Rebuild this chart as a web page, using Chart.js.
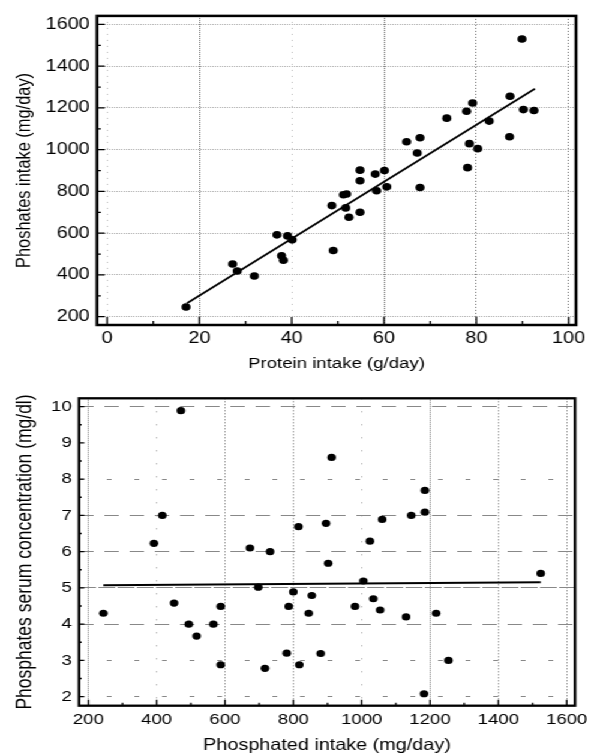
<!DOCTYPE html>
<html>
<head>
<meta charset="utf-8">
<script src="https://cdn.jsdelivr.net/npm/chart.js@4.4.1/dist/chart.umd.min.js"></script>
<style>
  html, body { margin: 0; padding: 0; background: #fff; overflow: hidden; }
  /* the original figure is stretched sideways, so the charts are too */
  #wrap { width: 495px; transform: scaleX(1.2); transform-origin: 0 0; }
  canvas { display: block; }
</style>
</head>
<body>
<div id="wrap">
  <canvas id="chartTop" width="495" height="375"></canvas>
  <canvas id="chartBottom" width="495" height="380"></canvas>
</div>
<script>
// top panel: protein vs phosphate intake
const proteinIntake = [17.1, 27.2, 28.2, 31.9, 36.8, 37.8, 38.2, 39.1, 40.1, 49.0, 48.7, 51.2, 51.9,
  51.7, 52.4, 54.8, 54.8, 54.8, 58.1, 60.1, 58.4, 60.6, 67.8, 64.9, 67.8, 67.2, 73.6, 77.9, 79.2,
  78.5, 80.3, 78.1, 82.8, 87.3, 87.2, 89.9, 90.2, 92.5];
const phosphateIntakeTop = [246, 452, 419, 395, 592, 492, 470, 587, 568, 517, 732, 784, 788,
  721, 676, 700, 851, 902, 883, 900, 803, 822, 819, 1038, 1057, 984, 1151, 1184, 1224,
  1029, 1005, 914, 1137, 1256, 1062, 1530, 1192, 1188];
const fitTopX = [17.3, 92.7];
const fitTopY = [264, 1292];
const topXTicks = [0, 20, 40, 60, 80, 100];
const topXMinor = [10, 30, 50, 70, 90];
const topYTicks = [200, 400, 600, 800, 1000, 1200, 1400, 1600];
const topYMinor = [300, 500, 700, 900, 1100, 1300, 1500];

// bottom panel: phosphate intake vs serum concentration
const phosphateIntakeBottom = [244, 392, 416.6, 451, 471, 494, 517, 566, 587.5, 587.5, 673, 697.5,
  717, 732, 780.6, 786.5, 800, 815, 817.5, 845, 854, 880, 895.6, 902, 912, 980.5, 1005, 1024,
  1034, 1054, 1060, 1130, 1145, 1182.5, 1185, 1185, 1218, 1254, 1524];
const serumPhosphate = [4.30, 6.23, 7.0, 4.58, 9.89, 4.0, 3.67, 4.0, 4.49, 2.88, 6.10, 5.02,
  2.78, 6.0, 3.20, 4.49, 4.89, 6.69, 2.88, 4.30, 4.79, 3.19, 6.78, 5.68, 8.60, 4.49, 5.19, 6.29,
  4.70, 4.39, 6.89, 4.20, 7.0, 2.08, 7.09, 7.69, 4.30, 3.0, 5.40];
const fitBottomX = [244, 1524];
const fitBottomY = [5.07, 5.155];
const bottomXTicks = [200, 400, 600, 800, 1000, 1200, 1400, 1600];
const bottomXMinor = [300, 500, 700, 900, 1100, 1300, 1500];
const bottomYTicks = [2, 3, 4, 5, 6, 7, 8, 9, 10];
const bottomYMinor = [2.5, 3.5, 4.5, 5.5, 6.5, 7.5, 8.5, 9.5];

Chart.defaults.font.family = "'Liberation Sans', Arial, sans-serif";
Chart.defaults.color = '#000';

// frame + inward ticks, placed through the scales
const framePlugin = {
  id: 'frame',
  afterDraw(chart, args, o) {
    const { ctx, chartArea: a, scales: { x, y } } = chart;
    ctx.save();
    ctx.strokeStyle = '#000';
    ctx.lineWidth = 1.3;
    ctx.beginPath();
    o.xMajor.forEach(v => { const p = x.getPixelForValue(v); ctx.moveTo(p, a.bottom); ctx.lineTo(p, a.bottom - o.xLen); });
    o.xMinor.forEach(v => { const p = x.getPixelForValue(v); ctx.moveTo(p, a.bottom); ctx.lineTo(p, a.bottom - o.xLen / 2); });
    o.yMajor.forEach(v => { const p = y.getPixelForValue(v); ctx.moveTo(a.left, p); ctx.lineTo(a.left + o.yLen, p); });
    o.yMinor.forEach(v => { const p = y.getPixelForValue(v); ctx.moveTo(a.left, p); ctx.lineTo(a.left + o.yLen / 2, p); });
    ctx.stroke();
    ctx.lineWidth = o.frameWidth;
    ctx.strokeRect(a.left, a.top, a.right - a.left, a.bottom - a.top);
    ctx.restore();
  }
};

function pts(xs, ys) {
  return xs.map((v, i) => ({ x: v, y: ys[i] }));
}

function fixTicks(values) {
  return s => { s.ticks = values.map(v => ({ value: v })); };
}

// top chart
new Chart(document.getElementById('chartTop'), {
  type: 'scatter',
  data: {
    datasets: [{
      type: 'line',
      data: pts(fitTopX, fitTopY),
      borderColor: '#000',
      borderWidth: 1.7,
      pointRadius: 0,
      fill: false
    }, {
      data: pts(proteinIntake, phosphateIntakeTop),
      backgroundColor: '#000',
      borderWidth: 0,
      pointRadius: 3.8
    }]
  },
  options: {
    responsive: false,
    animation: false,
    layout: { padding: { left: 0, top: 14, right: 15, bottom: 0 } },
    plugins: {
      legend: { display: false },
      tooltip: { enabled: false },
      frame: { xMajor: topXTicks, xMinor: topXMinor, yMajor: topYTicks, yMinor: topYMinor, xLen: 8, yLen: 6.5, frameWidth: 2.5 }
    },
    scales: {
      x: {
        min: -2.2, max: 101.6,
        afterBuildTicks: fixTicks(topXTicks),
        afterFit: s => { s.height = 50; },
        ticks: { padding: 4, font: { size: 16.5 }, callback: v => String(v) },
        grid: {
          drawTicks: false,
          color: c => {
            const v = c.tick ? c.tick.value : 0;
            return (v === 0 || v === 40) ? '#bbb' : '#666';
          }
        },
        border: {
          display: false,
          dash: c => {
            const v = c.tick ? c.tick.value : 0;
            if (v === 0 || v === 40) return [1, 5];
            if (v === 20 || v === 60) return [1, 1];
            return [1, 2];
          }
        },
        title: { display: true, text: 'Protein intake (g/day)', font: { size: 15.5 }, padding: { top: 0, bottom: 2 } }
      },
      y: {
        min: 160, max: 1641,
        afterBuildTicks: fixTicks(topYTicks),
        afterFit: s => { s.width = 80.8; },
        ticks: { padding: 6, font: { size: 16.5 }, callback: v => String(v) },
        grid: { drawTicks: false, color: '#aaa' },
        border: { display: false, dash: [1, 1] },
        title: { display: true, text: 'Phoshates intake (mg/day)', font: { size: 16.4 }, padding: { top: 10.5, bottom: 0 } }
      }
    }
  },
  plugins: [framePlugin]
});

// bottom chart
new Chart(document.getElementById('chartBottom'), {
  type: 'scatter',
  data: {
    datasets: [{
      type: 'line',
      data: pts(fitBottomX, fitBottomY),
      borderColor: '#000',
      borderWidth: 2,
      pointRadius: 0,
      fill: false
    }, {
      data: pts(phosphateIntakeBottom, serumPhosphate),
      backgroundColor: '#000',
      borderWidth: 0,
      pointRadius: 3.6
    }]
  },
  options: {
    responsive: false,
    animation: false,
    layout: { padding: { left: 0, top: 23.3, right: 15.8, bottom: 0 } },
    plugins: {
      legend: { display: false },
      tooltip: { enabled: false },
      frame: { xMajor: bottomXTicks, xMinor: bottomXMinor, yMajor: bottomYTicks, yMinor: bottomYMinor, xLen: 6, yLen: 4.5, frameWidth: 2.3 }
    },
    scales: {
      x: {
        min: 172.6, max: 1624.4,
        afterBuildTicks: fixTicks(bottomXTicks),
        afterFit: s => { s.height = 49.3; },
        ticks: { padding: 5, font: { size: 15.5 }, callback: v => String(v) },
        grid: {
          drawTicks: false,
          color: c => {
            const v = c.tick ? c.tick.value : 0;
            return (v === 400 || v === 1000) ? '#999' : '#777';
          }
        },
        border: {
          display: false,
          dash: c => {
            const v = c.tick ? c.tick.value : 0;
            if (v === 400 || v === 1000) return [1, 12];
            if (v === 200 || v === 1200) return [1, 1];
            return [1, 2];
          }
        },
        title: { display: true, text: 'Phosphated intake (mg/day)', font: { size: 16.5 }, padding: { top: 0, bottom: 0 } }
      },
      y: {
        min: 1.75, max: 10.23,
        afterBuildTicks: fixTicks(bottomYTicks),
        afterFit: s => { s.width = 65.8; },
        ticks: { padding: 6, font: { size: 15.5 }, callback: v => String(v) },
        grid: {
          drawTicks: false,
          color: c => {
            const v = c.tick ? c.tick.value : 0;
            return v === 9 ? 'rgba(0,0,0,0)' : '#888';
          }
        },
        border: {
          display: false,
          dash: c => {
            const v = c.tick ? c.tick.value : 0;
            if (v === 5) return [14, 2];
            if (v === 8 || v === 3 || v === 2) return [4, 19];
            return [12, 9];
          }
        },
        title: { display: true, text: 'Phosphates serum concentration (mg/dl)', font: { size: 17.5 }, padding: { top: 10.5, bottom: 0 } }
      }
    }
  },
  plugins: [framePlugin]
});
</script>
</body>
</html>
